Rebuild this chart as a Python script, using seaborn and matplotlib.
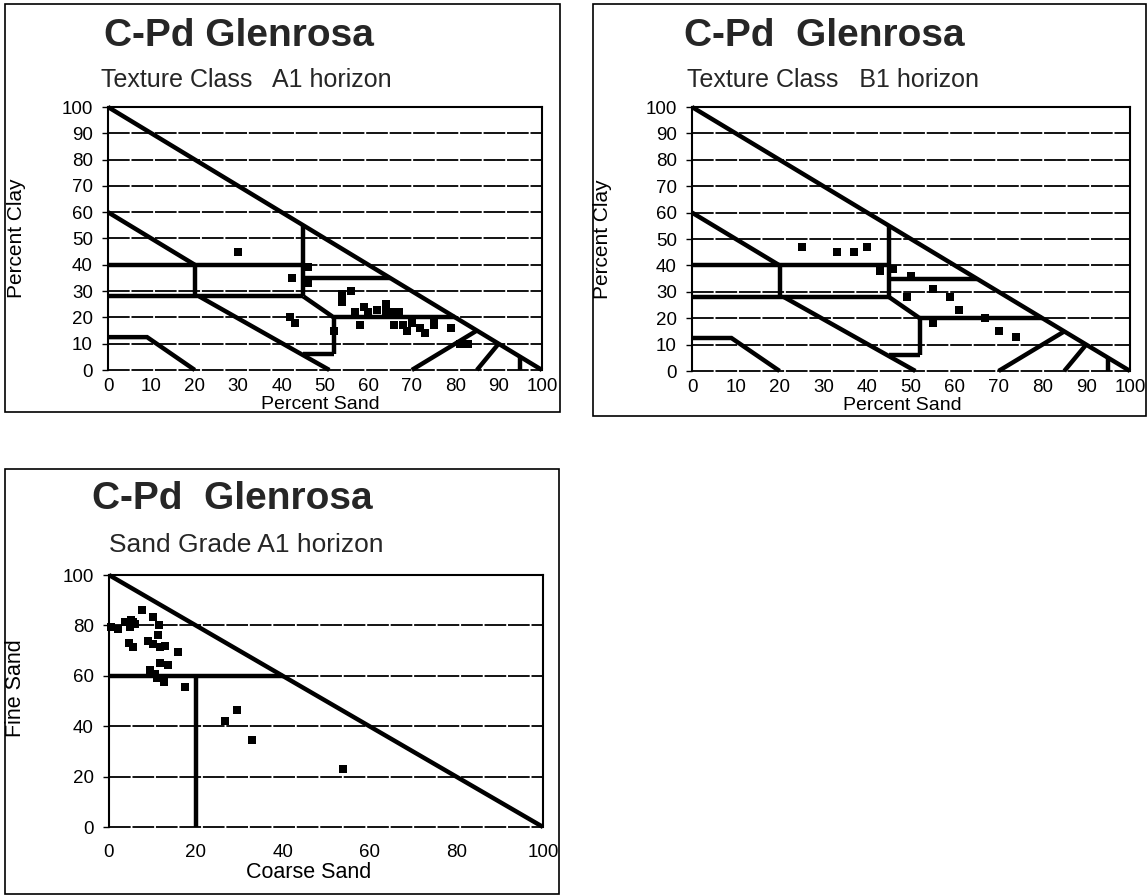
import matplotlib
matplotlib.use("Agg")
import matplotlib.pyplot as plt
import seaborn as sns
import pandas as pd
from matplotlib.patches import Rectangle

# ---------------- data ----------------
title_a1 = "C-Pd Glenrosa"
title_b1 = "C-Pd  Glenrosa"
title_sg = "C-Pd  Glenrosa"
sub_a1 = "Texture Class   A1 horizon"
sub_b1 = "Texture Class   B1 horizon"
sub_sg = "Sand Grade A1 horizon"

texture_ticks = [0, 10, 20, 30, 40, 50, 60, 70, 80, 90, 100]
grade_ticks = [0, 20, 40, 60, 80, 100]

a1_sand = [30, 42.5, 46, 46, 42, 43, 52, 54, 54, 56, 57, 58, 59, 60, 62, 64, 64, 66,
           67, 66, 68, 69, 70, 72, 73, 75, 75, 79, 81, 83]
a1_clay = [45, 35, 39, 33, 20, 18, 15, 29, 26, 30, 22, 17, 24, 22, 23, 25, 22, 22,
           22, 17, 17, 15, 18, 16, 14, 17, 19, 16, 10, 10]

b1_sand = [25, 33, 37, 40, 43, 46, 50, 49, 55, 59, 61, 55, 67, 70, 74]
b1_clay = [47, 45, 45, 47, 38, 38.5, 36, 28, 31, 28, 23, 18, 20, 15, 13]

sg_coarse = [0.5, 2, 3.7, 5.6, 4.8, 6, 5, 7.5, 10.2, 11.6, 11.2, 9, 10.2, 11.7, 13,
             16, 4.6, 5.6, 11.7, 13.6, 9.4, 10.6, 11, 12.7, 17.5, 29.5, 26.8, 33, 54]
sg_fine = [79.5, 78.5, 81.5, 81.5, 79.5, 80.5, 82, 86, 83.5, 80, 76, 74, 72.8, 71.5, 72,
           69.5, 73, 71.5, 65, 64.3, 62.5, 60.7, 59, 57.5, 55.5, 46.5, 42, 34.5, 23]

# texture-class boundary segments (sand %, clay %)
texture_bounds = [
    ([0, 100], [100, 0]),
    ([0, 20], [60, 40]),
    ([0, 45], [40, 40]),
    ([20, 20], [40, 28]),
    ([0, 45], [28, 28]),
    ([45, 45], [28, 55]),
    ([45, 65], [35, 35]),
    ([45, 52], [28, 20]),
    ([52, 80], [20, 20]),
    ([52, 52], [20, 6]),
    ([45, 52], [6, 6]),
    ([21, 51], [28, 0]),
    ([0, 9, 20], [12.5, 12.5, 0]),
    ([70, 85], [0, 15]),
    ([85, 90], [0, 10]),
    ([95, 95], [0, 5]),
]
# sand-grade boundary segments (coarse, fine)
grade_bounds = [
    ([0, 100], [100, 0]),
    ([0, 40], [60, 60]),
    ([20, 20], [0, 60]),
]

# ---------------- figure ----------------
sns.set_theme(style="white")
plt.rcParams['font.family'] = ['Liberation Sans', 'DejaVu Sans']

W, H = 1148, 896
fig = plt.figure(figsize=(W / 100, H / 100), dpi=100)


def fx(x):
    return x / W


def fy(y):
    return 1 - y / H


def add_ax(l, t, r, b):
    return fig.add_axes([l / W, 1 - b / H, (r - l) / W, (b - t) / H])


def border(l, t, r, b):
    fig.add_artist(Rectangle((l / W, 1 - b / H), (r - l) / W, (b - t) / H,
                             transform=fig.transFigure, fill=False,
                             lw=1.2, ec='black'))


def style(ax, ticks, grid_vals):
    ax.set_xlim(0, 100)
    ax.set_ylim(0, 100)
    ax.set_xticks(ticks)
    ax.set_yticks(ticks)
    ax.set_xticklabels([str(t) for t in ticks])
    ax.set_yticklabels([str(t) for t in ticks])
    for v in grid_vals:
        ax.axhline(v, color='black', lw=1.3, dashes=(12, 1.0), zorder=1, clip_on=False)
    for s in ['left', 'top', 'right']:
        ax.spines[s].set_visible(True)
        ax.spines[s].set_color('black')
        ax.spines[s].set_linewidth(1.5)
    ax.spines['bottom'].set_visible(False)
    ax.tick_params(axis='y', left=True, length=4, width=1, color='black',
                   pad=7, labelsize=13.5, direction='out', labelcolor='black')
    ax.tick_params(axis='x', bottom=False, length=0, pad=6, labelsize=13.5,
                   labelcolor='black')
    ax.grid(False)


def draw_bounds(ax, bounds):
    for xs, ys in bounds:
        ax.plot(xs, ys, color='black', lw=3.2, solid_capstyle='butt',
                solid_joinstyle='miter', clip_on=False, zorder=3)


def scatter(ax, x, y, xname, yname):
    df = pd.DataFrame({xname: x, yname: y})
    sns.scatterplot(data=df, x=xname, y=yname, marker='s', s=40, color='black',
                    linewidth=0, ax=ax, zorder=4, clip_on=False, legend=False)


# ---- panel 1: A1 texture ----
border(5, 4, 560, 412)
ax1 = add_ax(108, 107, 542, 370)
style(ax1, texture_ticks, texture_ticks[:-1])
draw_bounds(ax1, texture_bounds)
scatter(ax1, a1_sand, a1_clay, "Percent Sand", "Percent Clay")
ax1.set_xlabel("Percent Sand", fontsize=14, color='black', va='center')
ax1.xaxis.set_label_coords(0.49, (370 - 404) / 263)
ax1.set_ylabel("Percent Clay", fontsize=15, color='black', va='center')
ax1.yaxis.set_label_coords((17 - 108) / 434, 0.5)
fig.text(fx(239), fy(46), title_a1, fontsize=28, fontweight='bold',
         ha='center', va='baseline')
fig.text(fx(246), fy(87), sub_a1, fontsize=18, ha='center', va='baseline')

# ---- panel 2: B1 texture ----
border(593, 4, 1146, 416)
ax2 = add_ax(692, 107, 1130, 371)
style(ax2, texture_ticks, texture_ticks[:-1])
draw_bounds(ax2, texture_bounds)
scatter(ax2, b1_sand, b1_clay, "Percent Sand", "Percent Clay")
ax2.set_xlabel("Percent Sand", fontsize=14, color='black', va='center')
ax2.xaxis.set_label_coords(0.48, (371 - 406) / 264)
ax2.set_ylabel("Percent Clay", fontsize=15, color='black', va='center')
ax2.yaxis.set_label_coords((603 - 692) / 438, 0.5)
fig.text(fx(824), fy(46), title_b1, fontsize=28, fontweight='bold',
         ha='center', va='baseline')
fig.text(fx(833), fy(87), sub_b1, fontsize=18, ha='center', va='baseline')

# ---- panel 3: sand grade ----
border(5, 469, 559, 894)
ax3 = add_ax(109, 575, 543, 827)
style(ax3, grade_ticks, grade_ticks[:-1])
draw_bounds(ax3, grade_bounds)
scatter(ax3, sg_coarse, sg_fine, "Coarse Sand", "Fine Sand")
ax3.tick_params(axis='x', pad=12)
ax3.set_xlabel("Coarse Sand", fontsize=15.5, color='black', va='center')
ax3.xaxis.set_label_coords((309 - 109) / 434, (827 - 872) / 252)
ax3.set_ylabel("Fine Sand", fontsize=15.5, color='black', va='center')
ax3.yaxis.set_label_coords((16 - 109) / 434, 0.55)
fig.text(fx(232), fy(509), title_sg, fontsize=28, fontweight='bold',
         ha='center', va='baseline')
fig.text(fx(246), fy(552), sub_sg, fontsize=19, ha='center', va='baseline')

fig.savefig("out.png", dpi=100, facecolor='white')
